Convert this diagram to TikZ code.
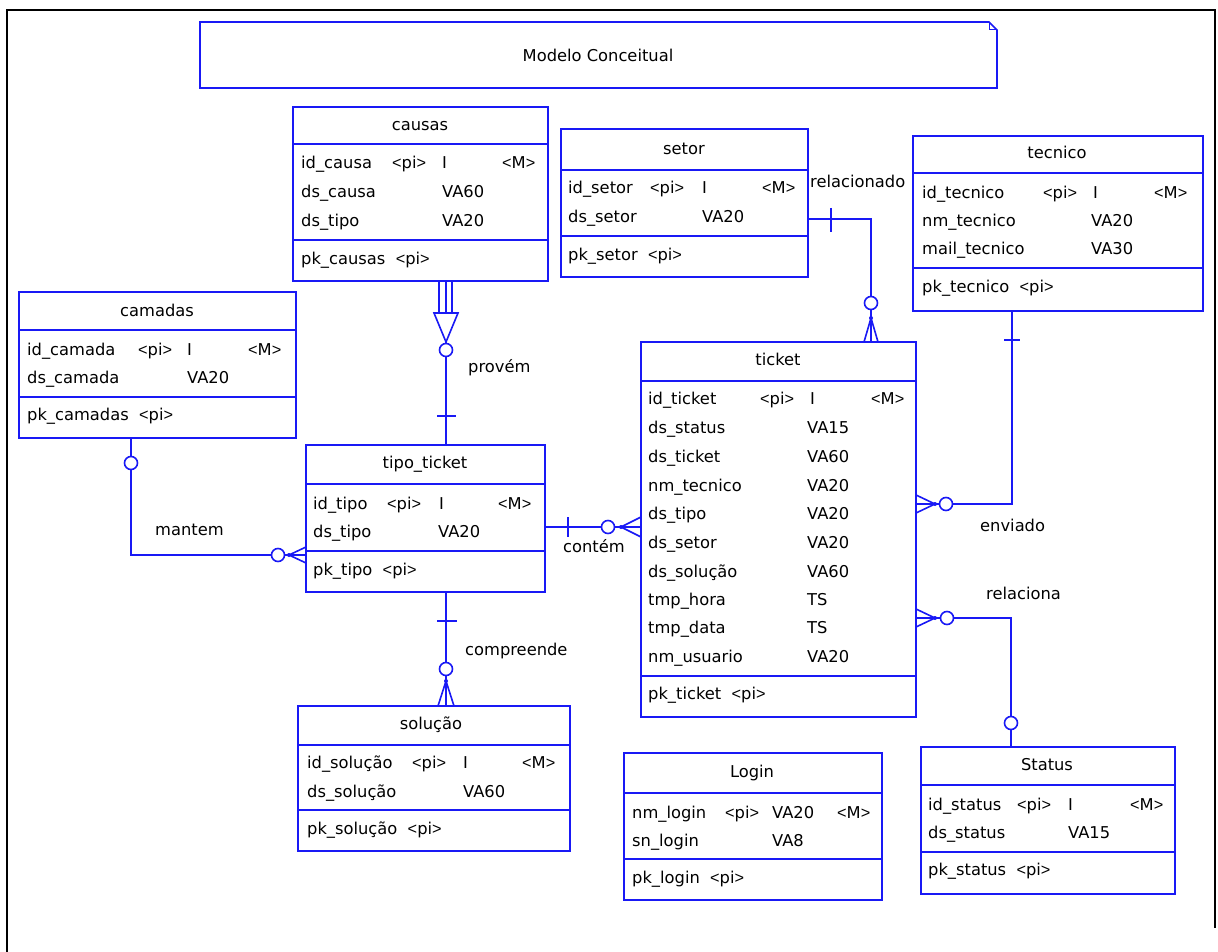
\documentclass[tikz,border=0pt]{standalone}
\usepackage{fontspec}
\setmainfont{DejaVu Sans}
\newfontfamily\narrowf{Liberation Sans}
\newcommand{\erlt}{{\narrowf<}}
\newcommand{\ergt}{{\narrowf>}}
\newcommand{\pitag}{\erlt pi\ergt}
\newcommand{\mtag}{\erlt M\ergt}
\definecolor{erblue}{RGB}{25,25,245}
\begin{document}
\begin{tikzpicture}[x=1pt,y=-1pt,
 ent/.style={draw=erblue,line width=1.6pt,inner sep=0pt,outer sep=0pt,anchor=north west,fill=white},
 rel/.style={draw=erblue,line width=1.6pt},
 txt/.style={inner sep=0pt,anchor=base west,font=\fontsize{16.3}{19}\selectfont},
 hd/.style={inner sep=0pt,anchor=base,font=\fontsize{16.3}{19}\selectfont},
 zero/.style={draw=erblue,line width=1.6pt,fill=white},
 dotm/.style={fill=erblue},
 frameline/.style={draw=black,line width=2.2pt}]

\useasboundingbox (0,0) rectangle (1218,952);
\fill[white] (0,0) rectangle (1218,952);
\draw[frameline] (7,952) -- (7,10) -- (1215,10) -- (1215,928);

% title
\node[inner sep=0pt,outer sep=0pt,anchor=north west,minimum width=797pt,minimum height=66pt] (title) at (200,22) {};
\draw[rel] (title.north west) -- (989,22) -- (997,30) -- (title.south east) -- (title.south west) -- cycle;
\draw[draw=erblue,line width=1pt] (989,22) -- (989,30) -- (997,30);
\node[hd] (titletext) at (598,62) {Modelo Conceitual};

% ---------- causas
\node[ent,minimum width=255pt,minimum height=174pt] (causas) at (293,107) {};
\draw[rel] (causas.west |- 0,144) -- (causas.east |- 0,144);
\draw[rel] (causas.west |- 0,240) -- (causas.east |- 0,240);
\node[hd] (causas-h) at (420,130.5) {causas};
\node[txt] (causas-a1) at (301,168.5) {id\_causa};
\node[txt] (causas-a1p) at (392,168.5) {\pitag};
\node[txt] (causas-a1t) at (442,168.5) {I};
\node[txt] (causas-a1m) at (502,168.5) {\mtag};
\node[txt] (causas-a2) at (301,197.5) {ds\_causa};
\node[txt] (causas-a2t) at (442,197.5) {VA60};
\node[txt] (causas-a3) at (301,226.5) {ds\_tipo};
\node[txt] (causas-a3t) at (442,226.5) {VA20};
\node[txt] (causas-pk) at (301,264.5) {pk\_causas\ \ \pitag};

% ---------- setor
\node[ent,minimum width=247pt,minimum height=148pt] (setor) at (561,129) {};
\draw[rel] (setor.west |- 0,170) -- (setor.east |- 0,170);
\draw[rel] (setor.west |- 0,236) -- (setor.east |- 0,236);
\node[hd] (setor-h) at (684,154.5) {setor};
\node[txt] (setor-a1) at (568,193.5) {id\_setor};
\node[txt] (setor-a1p) at (650,193.5) {\pitag};
\node[txt] (setor-a1t) at (702,193.5) {I};
\node[txt] (setor-a1m) at (762,193.5) {\mtag};
\node[txt] (setor-a2) at (568,222.5) {ds\_setor};
\node[txt] (setor-a2t) at (702,222.5) {VA20};
\node[txt] (setor-pk) at (568,260.5) {pk\_setor\ \ \pitag};

% ---------- tecnico
\node[ent,minimum width=290pt,minimum height=175pt] (tecnico) at (913,136) {};
\draw[rel] (tecnico.west |- 0,173) -- (tecnico.east |- 0,173);
\draw[rel] (tecnico.west |- 0,268) -- (tecnico.east |- 0,268);
\node[hd] (tecnico-h) at (1057,158.5) {tecnico};
\node[txt] (tecnico-a1) at (922,198.5) {id\_tecnico};
\node[txt] (tecnico-a1p) at (1043,198.5) {\pitag};
\node[txt] (tecnico-a1t) at (1093,198.5) {I};
\node[txt] (tecnico-a1m) at (1154,198.5) {\mtag};
\node[txt] (tecnico-a2) at (922,226.5) {nm\_tecnico};
\node[txt] (tecnico-a2t) at (1091,226.5) {VA20};
\node[txt] (tecnico-a3) at (922,254.5) {mail\_tecnico};
\node[txt] (tecnico-a3t) at (1091,254.5) {VA30};
\node[txt] (tecnico-pk) at (922,292.5) {pk\_tecnico\ \ \pitag};

% ---------- camadas
\node[ent,minimum width=277pt,minimum height=146pt] (camadas) at (19,292) {};
\draw[rel] (camadas.west |- 0,330) -- (camadas.east |- 0,330);
\draw[rel] (camadas.west |- 0,397) -- (camadas.east |- 0,397);
\node[hd] (camadas-h) at (157,316.5) {camadas};
\node[txt] (camadas-a1) at (27,355.5) {id\_camada};
\node[txt] (camadas-a1p) at (138,355.5) {\pitag};
\node[txt] (camadas-a1t) at (187,355.5) {I};
\node[txt] (camadas-a1m) at (248,355.5) {\mtag};
\node[txt] (camadas-a2) at (27,383.5) {ds\_camada};
\node[txt] (camadas-a2t) at (187,383.5) {VA20};
\node[txt] (camadas-pk) at (27,420.5) {pk\_camadas\ \ \pitag};

% ---------- tipo_ticket
\node[ent,minimum width=239pt,minimum height=147pt] (tipo) at (306,445) {};
\draw[rel] (tipo.west |- 0,484) -- (tipo.east |- 0,484);
\draw[rel] (tipo.west |- 0,551) -- (tipo.east |- 0,551);
\node[hd] (tipo-h) at (425,468.5) {tipo\_ticket};
\node[txt] (tipo-a1) at (313,509.5) {id\_tipo};
\node[txt] (tipo-a1p) at (387,509.5) {\pitag};
\node[txt] (tipo-a1t) at (439,509.5) {I};
\node[txt] (tipo-a1m) at (498,509.5) {\mtag};
\node[txt] (tipo-a2) at (313,537.5) {ds\_tipo};
\node[txt] (tipo-a2t) at (438,537.5) {VA20};
\node[txt] (tipo-pk) at (313,575.5) {pk\_tipo\ \ \pitag};

% ---------- ticket
\node[ent,minimum width=275pt,minimum height=375pt] (ticket) at (641,342) {};
\draw[rel] (ticket.west |- 0,381) -- (ticket.east |- 0,381);
\draw[rel] (ticket.west |- 0,676) -- (ticket.east |- 0,676);
\node[hd] (ticket-h) at (778,365.5) {ticket};
\node[txt] (ticket-a1) at (648,404.5) {id\_ticket};
\node[txt] (ticket-a1p) at (760,404.5) {\pitag};
\node[txt] (ticket-a1t) at (810,404.5) {I};
\node[txt] (ticket-a1m) at (871,404.5) {\mtag};
\node[txt] (ticket-a2) at (648,433.5) {ds\_status};
\node[txt] (ticket-a2t) at (807,433.5) {VA15};
\node[txt] (ticket-a3) at (648,462.5) {ds\_ticket};
\node[txt] (ticket-a3t) at (807,462.5) {VA60};
\node[txt] (ticket-a4) at (648,491.5) {nm\_tecnico};
\node[txt] (ticket-a4t) at (807,491.5) {VA20};
\node[txt] (ticket-a5) at (648,519.5) {ds\_tipo};
\node[txt] (ticket-a5t) at (807,519.5) {VA20};
\node[txt] (ticket-a6) at (648,548.5) {ds\_setor};
\node[txt] (ticket-a6t) at (807,548.5) {VA20};
\node[txt] (ticket-a7) at (648,577.5) {ds\_solução};
\node[txt] (ticket-a7t) at (807,577.5) {VA60};
\node[txt] (ticket-a8) at (648,605.5) {tmp\_hora};
\node[txt] (ticket-a8t) at (807,605.5) {TS};
\node[txt] (ticket-a9) at (648,633.5) {tmp\_data};
\node[txt] (ticket-a9t) at (807,633.5) {TS};
\node[txt] (ticket-a10) at (648,662.5) {nm\_usuario};
\node[txt] (ticket-a10t) at (807,662.5) {VA20};
\node[txt] (ticket-pk) at (648,699.5) {pk\_ticket\ \ \pitag};

% ---------- solucao
\node[ent,minimum width=272pt,minimum height=145pt] (solucao) at (298,706) {};
\draw[rel] (solucao.west |- 0,745) -- (solucao.east |- 0,745);
\draw[rel] (solucao.west |- 0,810) -- (solucao.east |- 0,810);
\node[hd] (solucao-h) at (431,729.5) {solução};
\node[txt] (solucao-a1) at (307,768.5) {id\_solução};
\node[txt] (solucao-a1p) at (412,768.5) {\pitag};
\node[txt] (solucao-a1t) at (463,768.5) {I};
\node[txt] (solucao-a1m) at (522,768.5) {\mtag};
\node[txt] (solucao-a2) at (307,797.5) {ds\_solução};
\node[txt] (solucao-a2t) at (463,797.5) {VA60};
\node[txt] (solucao-pk) at (307,834.5) {pk\_solução\ \ \pitag};

% ---------- Login
\node[ent,minimum width=258pt,minimum height=147pt] (login) at (624,753) {};
\draw[rel] (login.west |- 0,793) -- (login.east |- 0,793);
\draw[rel] (login.west |- 0,859) -- (login.east |- 0,859);
\node[hd] (login-h) at (752,777.5) {Login};
\node[txt] (login-a1) at (632,818.5) {nm\_login};
\node[txt] (login-a1p) at (725,818.5) {\pitag};
\node[txt] (login-a1t) at (772,818.5) {VA20};
\node[txt] (login-a1m) at (837,818.5) {\mtag};
\node[txt] (login-a2) at (632,846.5) {sn\_login};
\node[txt] (login-a2t) at (772,846.5) {VA8};
\node[txt] (login-pk) at (632,883.5) {pk\_login\ \ \pitag};

% ---------- Status
\node[ent,minimum width=254pt,minimum height=147pt] (status) at (921,747) {};
\draw[rel] (status.west |- 0,785) -- (status.east |- 0,785);
\draw[rel] (status.west |- 0,852) -- (status.east |- 0,852);
\node[hd] (status-h) at (1047,770.5) {Status};
\node[txt] (status-a1) at (928,810.5) {id\_status};
\node[txt] (status-a1p) at (1017,810.5) {\pitag};
\node[txt] (status-a1t) at (1068,810.5) {I};
\node[txt] (status-a1m) at (1130,810.5) {\mtag};
\node[txt] (status-a2) at (928,838.5) {ds\_status};
\node[txt] (status-a2t) at (1068,838.5) {VA15};
\node[txt] (status-pk) at (928,875.5) {pk\_status\ \ \pitag};

% ================= connectors
% provem: causas -- tipo_ticket
\coordinate (pv) at (446,0);
\draw[rel] (causas.south -| pv) -- (tipo.north -| pv);
\draw[rel] (439,281) -- (439,313) (452,281) -- (452,313);
\draw[zero] (434,313) -- (458,313) -- (446,342) -- cycle;
\draw[zero] (446,350) circle[radius=6.5pt];
\draw[rel] (437,416) -- (456,416);
\node[txt] (provem) at (468,372.5) {provém};

% relacionado: setor -- ticket
\coordinate (rA) at (871,219);
\draw[rel] (setor.east |- rA) -- (rA) -- (ticket.north -| rA);
\draw[rel] (831,208) -- (831,232);
\draw[rel] (871,318) -- (864,342) (871,318) -- (878,342);
\fill[dotm] (871,318) circle[radius=2pt];
\draw[zero] (871,303) circle[radius=6.5pt];
\node[txt] (relacionado) at (810,187.5) {relacionado};

% enviado: tecnico -- ticket
\coordinate (eA) at (1012,504);
\draw[rel] (tecnico.south -| eA) -- (eA) -- (ticket.east |- eA);
\draw[rel] (1004,340) -- (1020,340);
\draw[rel] (935,504) -- (916,495) (935,504) -- (916,513);
\fill[dotm] (935,504) circle[radius=2pt];
\draw[zero] (946,504) circle[radius=6.5pt];
\node[txt] (enviado) at (980,531.5) {enviado};

% relaciona: ticket -- Status
\coordinate (sA) at (1011,618);
\draw[rel] (ticket.east |- sA) -- (sA) -- (status.north -| sA);
\draw[rel] (935,618) -- (916,609) (935,618) -- (916,627);
\fill[dotm] (935,618) circle[radius=2pt];
\draw[zero] (947,618) circle[radius=6.5pt];
\draw[zero] (1011,723) circle[radius=6.5pt];
\node[txt] (relaciona) at (986,599.5) {relaciona};

% contem: tipo_ticket -- ticket
\coordinate (cA) at (0,527);
\draw[rel] (tipo.east |- cA) -- (ticket.west |- cA);
\draw[rel] (568,517) -- (568,537);
\draw[rel] (621,527) -- (641,517) (621,527) -- (641,537);
\fill[dotm] (621,527) circle[radius=2pt];
\draw[zero] (608,527) circle[radius=6.5pt];
\node[txt] (contem) at (563,552.5) {contém};

% compreende: tipo_ticket -- solucao
\coordinate (kA) at (446,0);
\draw[rel] (tipo.south -| kA) -- (solucao.north -| kA);
\draw[rel] (437,621) -- (457,621);
\draw[rel] (446,681) -- (438,706) (446,681) -- (454,706);
\fill[dotm] (446,681) circle[radius=2pt];
\draw[zero] (446,669) circle[radius=6.5pt];
\node[txt] (compreende) at (465,655.5) {compreende};

% mantem: camadas -- tipo_ticket
\coordinate (mA) at (131,555);
\draw[rel] (camadas.south -| mA) -- (mA) -- (tipo.west |- mA);
\draw[zero] (131,463) circle[radius=6.5pt];
\draw[rel] (289,555) -- (306,547) (289,555) -- (306,563);
\fill[dotm] (289,555) circle[radius=2pt];
\draw[zero] (278,555) circle[radius=6.5pt];
\node[txt] (mantem) at (155,535.5) {mantem};
\end{tikzpicture}
\end{document}
